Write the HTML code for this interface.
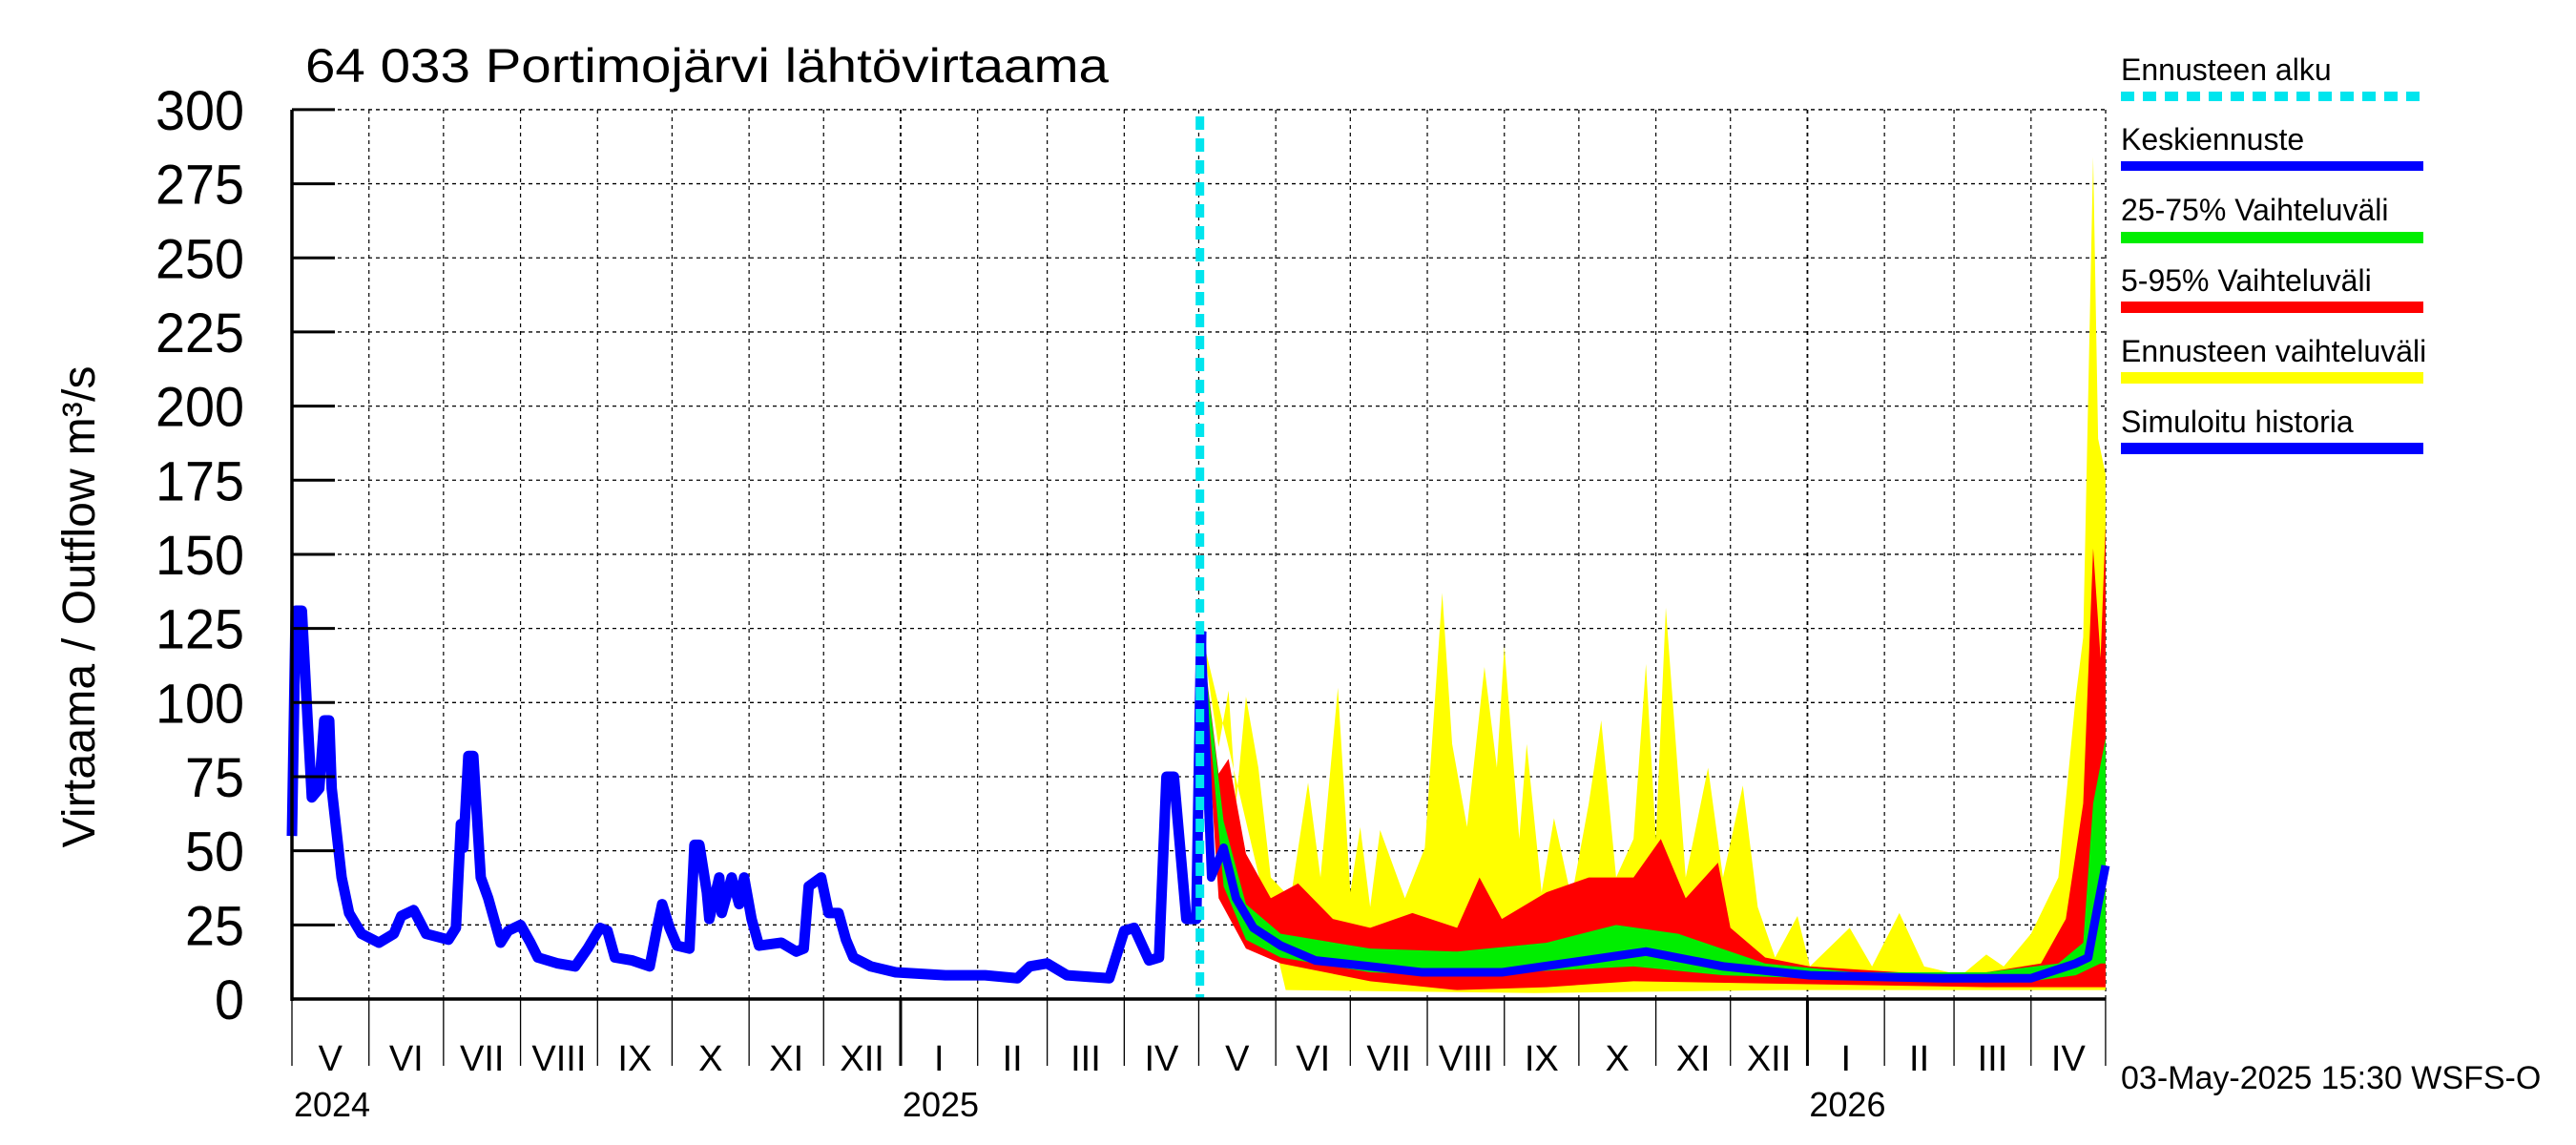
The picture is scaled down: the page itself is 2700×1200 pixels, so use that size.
<!DOCTYPE html>
<html><head><meta charset="utf-8"><style>
html,body{margin:0;padding:0;background:#fff;}
svg{display:block;font-family:"Liberation Sans",sans-serif;}
</style></head><body>
<svg id="chart" width="2700" height="1200" viewBox="0 0 2700 1200" xmlns="http://www.w3.org/2000/svg">
<text x="320" y="86" font-size="50" textLength="842" lengthAdjust="spacingAndGlyphs">64 033 Portimojärvi lähtövirtaama</text>
<text transform="translate(99,636) rotate(-90)" text-anchor="middle" font-size="48" textLength="505" lengthAdjust="spacing">Virtaama / Outflow      m³/s</text>
<g id="grid"></g><g id="bands"></g><g id="lines"></g><g id="axes"></g>
<g font-size="32">
<text x="2223" y="84">Ennusteen alku</text>
<line x1="2223" y1="101" x2="2540" y2="101" stroke="#00e5ee" stroke-width="10" stroke-dasharray="14,9"/>
<text x="2223" y="157">Keskiennuste</text>
<line x1="2223" y1="174" x2="2540" y2="174" stroke="#0000ff" stroke-width="10"/>
<text x="2223" y="231">25-75% Vaihteluväli</text>
<line x1="2223" y1="249" x2="2540" y2="249" stroke="#00ee00" stroke-width="12"/>
<text x="2223" y="305">5-95% Vaihteluväli</text>
<line x1="2223" y1="322" x2="2540" y2="322" stroke="#ff0000" stroke-width="12"/>
<text x="2223" y="379">Ennusteen vaihteluväli</text>
<line x1="2223" y1="396" x2="2540" y2="396" stroke="#ffff00" stroke-width="12"/>
<text x="2223" y="453">Simuloitu historia</text>
<line x1="2223" y1="470" x2="2540" y2="470" stroke="#0000ff" stroke-width="12"/>
</g>
<text x="2223" y="1141" font-size="34">03-May-2025 15:30 WSFS-O</text>
</svg>
<script>
const yTicks=[0,25,50,75,100,125,150,175,200,225,250,275,300];
const monthLabels=["V","VI","VII","VIII","IX","X","XI","XII","I","II","III","IV","V","VI","VII","VIII","IX","X","XI","XII","I","II","III","IV"];
const monthDays=[31,30,31,31,30,31,30,31,31,28,31,30,31,30,31,31,30,31,30,31,31,28,31,30];
const yearLabels=["2024","2025","2026"];
const forecastStartDay=367;
const histDays=[0,1.5,4,6.5,8,11,13,15,16,20,23,28,35,41,44,49,54,63,66,68,69,71,73,76,79,84,87,92,96,99,107,114,119,124,127,130,137,144,147,149,152,155,160,162,164,167,168,172,173,177,180,182,185,188,197,203,206,208,213,216,220,223,226,233,243,263,279,292,297,304,312,329,335,339,345,349,352,355,360,364,366];
const histVals=[55,131,131,91,68,71,94,94,71,41,29,22,19,22,28,30,22,20,24,59,51,82,82,41,34,19,23,25,19,14,12,11,17,24,23,14,13,11,24,32,24,18,17,52,52,36,27,41,29,41,32,41,27,18,19,16,17,38,41,29,29,20,14,11,9,8,8,7,11,12,8,7,23,24,13,14,75,75,27,27,124];
const medDays=[366,370,375,380,387,398,412,434,455,487,512,545,576,611,664,700,718,723,727,730];
const medVals=[124,41,51,34,24,18,13,11,9,9,12,16,11,8,7,7,12,14,32,45];
const p75Days=[366,375,384,398,434,469,505,533,558,593,629,682,711,721,725,730];
const p75Vals=[124,60,32,22,17,16,19,25,22,12,9,9,12,19,66,88];
const p25Days=[366,375,384,398,434,469,540,576,647,700,718,728,730];
const p25Vals=[124,38,20,14,9,8,11,8,6,6,8,12,12];
const p95Days=[366,373,377,384,394,405,419,434,451,469,478,487,505,522,540,551,561,574,579,593,611,647,682,704,714,721,725,728,730];
const p95Vals=[124,76,81,49,34,39,27,24,29,24,41,27,36,41,41,54,34,46,24,14,11,9,9,12,27,66,152,115,160];
const p5Days=[366,373,384,398,434,469,505,540,611,682,730];
const p5Vals=[124,34,17,12,6,3,4,6,5,4,4];
const maxDays=[366,373,377,380,384,389,394,402,409,414,421,426,430,434,438,448,456,463,467,473,480,485,488,494,497,503,508,515,522,527,533,540,545,549,553,561,570,576,584,590,597,606,611,627,636,647,657,672,682,689,700,711,718,721,725,727,730];
const maxVals=[124,85,104,66,102,78,41,34,73,41,105,36,58,31,57,34,51,137,86,58,112,78,119,54,86,36,61,34,66,94,41,54,113,54,132,41,78,41,72,31,14,28,11,24,11,29,11,8,15,11,22,41,102,122,284,189,177];
const minDays=[366,400,500,600,700,730];
const minVals=[124,3,2,3,3,3];

const NS="http://www.w3.org/2000/svg";
const X0=306,PXD=2.604,Y0=1047,PXV=3.107;
const xs=d=>X0+d*PXD, ys=v=>Y0-v*PXV;
function mk(tag,attrs,parent){const e=document.createElementNS(NS,tag);for(const k in attrs)e.setAttribute(k,attrs[k]);parent.appendChild(e);return e;}
const grid=document.getElementById('grid'),bands=document.getElementById('bands'),lines=document.getElementById('lines'),axes=document.getElementById('axes');
const XR=2207;
yTicks.forEach(v=>{
  const g=mk('line',{x1:X0,x2:XR,y1:ys(v),y2:ys(v),stroke:'#000','stroke-width':1.3,'stroke-dasharray':'4,4'},grid);
  
  
  const t=mk('line',{x1:X0,x2:X0+45,y1:ys(v),y2:ys(v),stroke:'#000','stroke-width':3},axes);
  
  
  const l=mk('text',{x:256,y:ys(v)+21,'text-anchor':'end','font-size':58,textLength:String(v).length*31,lengthAdjust:'spacingAndGlyphs'},axes);
  l.textContent=v;
  
  
});
let d=0;
const monthStarts=[];
monthDays.forEach((n,i)=>{
  monthStarts.push(d);
  const x=xs(d);const jan=monthLabels[i]==="I";
  if(i>0){const g=mk('line',{x1:x,x2:x,y1:115,y2:Y0,stroke:'#000','stroke-width':jan?1.8:1.2,'stroke-dasharray':'4,4'},grid);
  
  }
  const s=mk('line',{x1:x,x2:x,y1:Y0,y2:1117,stroke:'#000','stroke-width':jan?3:1.3},axes);
  
  
  const t=mk('text',{x:xs(d+n/2),y:1122,'text-anchor':'middle','font-size':38},axes);
  t.textContent=monthLabels[i];
  
  
  d+=n;
});
const endX=xs(d);
mk('line',{x1:endX,x2:endX,y1:Y0,y2:1117,stroke:'#000','stroke-width':1.3},axes);
const yPos=[0,245,610];
yearLabels.forEach((y,i)=>{
  const t=mk('text',{x:xs(yPos[i])+42,y:1170,'text-anchor':'middle','font-size':36},axes);
  t.textContent=y;
  
  
});
mk('line',{x1:X0,x2:XR,y1:115,y2:115,stroke:'#000','stroke-width':1.3,'stroke-dasharray':'4,4'},grid);
mk('line',{x1:XR,x2:XR,y1:115,y2:Y0,stroke:'#000','stroke-width':1.3,'stroke-dasharray':'4,4'},grid);
function band(tD,tV,bD,bV,color,name){
  let p=tD.map((dd,i)=>xs(dd)+','+ys(tV[i]));
  for(let i=bD.length-1;i>=0;i--)p.push(xs(bD[i])+','+ys(bV[i]));
  const e=mk('polygon',{points:p.join(' '),fill:color},bands);
  
  
}
band(maxDays,maxVals,minDays,minVals,'#ffff00','range-band');
band(p95Days,p95Vals,p5Days,p5Vals,'#ff0000','p5-95-band');
band(p75Days,p75Vals,p25Days,p25Vals,'#00ee00','p25-75-band');
function line(D,V,w,name){
  const e=mk('polyline',{points:D.map((dd,i)=>xs(dd)+','+ys(V[i])).join(' '),fill:'none',stroke:'#0000ff','stroke-width':w,'stroke-linejoin':'round'},lines);
  
  
}
line(histDays,histVals,11,'history-line');
line(medDays,medVals,9,'median-line');
const c=mk('line',{x1:xs(forecastStartDay)-4,x2:xs(forecastStartDay)-4,y1:122,y2:Y0,stroke:'#00e5ee','stroke-width':9,'stroke-dasharray':'14,9'},lines);


mk('line',{x1:X0,x2:X0,y1:115,y2:Y0+2,stroke:'#000','stroke-width':3.5},axes);
mk('line',{x1:X0,x2:XR,y1:Y0,y2:Y0,stroke:'#000','stroke-width':3.5},axes);
</script>
</body></html>
